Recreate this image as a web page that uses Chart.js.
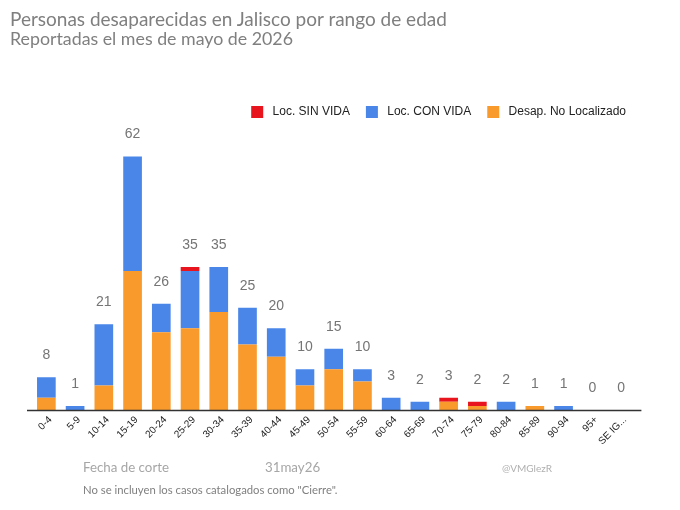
<!DOCTYPE html>
<html>
<head>
<meta charset="utf-8">
<script src="https://cdn.jsdelivr.net/npm/chart.js@4.4.1/dist/chart.umd.min.js"></script>
<style>
  html, body { margin: 0; padding: 0; background: #fff; }
  #wrap { position: relative; width: 680px; height: 510px; overflow: hidden; }
  canvas { position: absolute; left: 0; top: 0; }
  .t { position: absolute; white-space: nowrap; line-height: 1; font-family: Lato, "Open Sans", sans-serif; }
</style>
</head>
<body>
<div id="wrap">
  <canvas id="c" width="680" height="510"></canvas>
  <div class="t" style="left:10px;top:8.5px;font-size:19px;color:#7f7f7f;">Personas desaparecidas en Jalisco por rango de edad</div>
  <div class="t" style="left:10px;top:30px;font-size:17.8px;color:#7f7f7f;">Reportadas el mes de mayo de 2026</div>
  <div class="t" style="left:83px;top:461px;font-size:13.3px;color:#a6a6a6;">Fecha de corte</div>
  <div class="t" style="left:265px;top:461px;font-size:13.3px;color:#a6a6a6;">31may26</div>
  <div class="t" style="left:502px;top:463px;font-size:10px;color:#b0b0b0;">@VMGlezR</div>
  <div class="t" style="left:83px;top:484.3px;font-size:11.3px;color:#808080;">No se incluyen los casos catalogados como "Cierre".</div>
</div>
<script>
const ageGroups = ["0-4","5-9","10-14","15-19","20-24","25-29","30-34","35-39","40-44","45-49","50-54","55-59","60-64","65-69","70-74","75-79","80-84","85-89","90-94","95+","SE IG..."];
const desapNoLocalizado = [3,0,6,34,19,20,24,16,13,6,10,7,0,0,2,1,0,1,0,0,0];
const locConVida       = [5,1,15,28,7,14,11,9,7,4,5,3,3,2,0,0,2,0,1,0,0];
const locSinVida       = [0,0,0,0,0,1,0,0,0,0,0,0,0,0,1,1,0,0,0,0,0];
const seriesNames = ["Desap. No Localizado","Loc. CON VIDA","Loc. SIN VIDA"];
const seriesColors = ["#f99a2d","#4a86e8","#e8141e"];

const totalsPlugin = {
  id: 'totals',
  afterDatasetsDraw(chart) {
    const {ctx, scales: {x, y}} = chart;
    ctx.save();
    ctx.font = '14px "Liberation Sans", Arial, sans-serif';
    ctx.fillStyle = '#757575';
    ctx.textAlign = 'center';
    ctx.textBaseline = 'middle';
    ageGroups.forEach((g, i) => {
      const total = desapNoLocalizado[i] + locConVida[i] + locSinVida[i];
      ctx.fillText(String(total), x.getPixelForValue(i), y.getPixelForValue(total) - 22);
    });
    ctx.restore();
  }
};
const baselinePlugin = {
  id: 'baseline',
  afterDatasetsDraw(chart) {
    const {ctx, chartArea, scales: {y}} = chart;
    const py = Math.round(y.getPixelForValue(0)) + 0.5;
    ctx.save();
    ctx.strokeStyle = '#333';
    ctx.lineWidth = 1.3;
    ctx.beginPath();
    ctx.moveTo(chartArea.left - 5, py);
    ctx.lineTo(chartArea.right + 6, py);
    ctx.stroke();
    ctx.restore();
  }
};

new Chart(document.getElementById('c'), {
  type: 'bar',
  data: {
    labels: ageGroups,
    datasets: [
      { label: seriesNames[0], data: desapNoLocalizado, backgroundColor: seriesColors[0] },
      { label: seriesNames[1], data: locConVida, backgroundColor: seriesColors[1] },
      { label: seriesNames[2], data: locSinVida, backgroundColor: seriesColors[2] }
    ]
  },
  options: {
    responsive: false,
    animation: false,
    devicePixelRatio: 1,
    layout: { padding: { top: 90, left: 32, right: 38, bottom: 0 } },
    datasets: { bar: { categoryPercentage: 1, barPercentage: 0.65, borderWidth: 0 } },
    plugins: {
      title: { display: false },
      tooltip: { enabled: false },
      legend: {
        position: 'top',
        align: 'end',
        reverse: true,
        labels: {
          boxWidth: 12, boxHeight: 12, padding: 16,
          color: '#222',
          font: { size: 12, family: '"Liberation Sans", Arial, sans-serif' },
          generateLabels(chart) {
            const items = Chart.defaults.plugins.legend.labels.generateLabels(chart);
            items.forEach(it => { it.text = ' ' + it.text; });
            return items;
          }
        }
      }
    },
    scales: {
      x: {
        stacked: true,
        grid: { display: false, drawTicks: false },
        border: { display: false },
        afterFit(s) { s.height = 100; },
        ticks: {
          autoSkip: false, maxRotation: 45, minRotation: 45, padding: 4, labelOffset: 4,
          color: '#222',
          font: { size: 10, family: '"Liberation Sans", Arial, sans-serif' }
        }
      },
      y: {
        stacked: true,
        display: true,
        position: 'right',
        afterFit(s) { s.width = 6.6; },
        grid: { display: false, drawTicks: false },
        border: { display: false },
        ticks: { display: false },
        min: 0,
        max: 69
      }
    }
  },
  plugins: [totalsPlugin, baselinePlugin]
});
</script>
</body>
</html>
